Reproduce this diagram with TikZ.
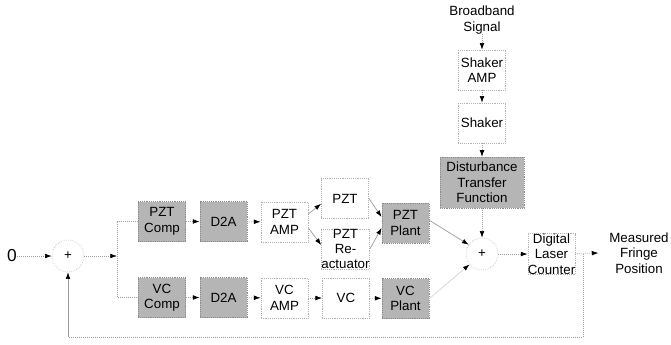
\documentclass[tikz,border=0pt]{standalone}
\usepackage{fontspec}
\setmainfont{Liberation Sans}
\usetikzlibrary{arrows.meta}
\begin{document}
\begin{tikzpicture}[x=0.75pt,y=-0.75pt,
  every node/.style={font=\fontsize{10}{11.6}\selectfont, align=center, inner sep=0pt},
  gbox/.style={fill=gray!58, draw=gray!90, densely dotted, minimum width=35.5pt, minimum height=30pt},
  wbox/.style={draw=gray!60, densely dotted, minimum width=35.5pt, minimum height=30pt},
  sumnode/.style={circle, draw=gray!70, densely dotted, minimum size=24pt},
  conn/.style={draw=gray!75, densely dotted, line width=0.5pt, -{Latex[length=5pt,width=3.5pt,black]}},
  plain/.style={draw=gray!75, densely dotted, line width=0.5pt},
  diag/.style={draw=gray!80, line width=0.5pt, -{Latex[length=5pt,width=3.5pt,black]}}
]
\useasboundingbox (0,0) rectangle (671,344);

% input and first summing junction
\node (zero) at (12,256) {\fontsize{13}{14}\selectfont 0};
\node[sumnode] (s1) at (68,256) {+};
\coordinate (br) at (117,256);

% PZT branch
\node[gbox] (pc) at (162,221.5) {PZT\\Comp};
\node[gbox] (d2a1) at (223.5,221.5) {D2A};
\node[wbox] (pamp) at (284.5,222) {PZT\\AMP};
\node[wbox] (pzt) at (345,198.5) {PZT};
\node[wbox] (rea) at (345.5,249) {PZT\\Re-\\actuator};
\node[gbox] (pplant) at (405.5,223) {PZT\\Plant};

% VC branch
\node[gbox] (vcc) at (162,297.5) {VC\\Comp};
\node[gbox] (d2a2) at (223.5,297.5) {D2A};
\node[wbox] (vamp) at (284.5,298) {VC\\AMP};
\node[wbox] (vc) at (346,298) {VC};
\node[gbox] (vplant) at (405.5,298.5) {VC\\Plant};

% disturbance path
\node (bb) at (482,20) {Broadband\\Signal};
\node[wbox] (samp) at (482,70) {Shaker\\AMP};
\node[wbox] (shaker) at (482,123) {Shaker};
\node[gbox, minimum width=63pt, minimum height=38pt] (dtf) at (482,182.5) {Disturbance\\Transfer\\Function};

% output
\node[sumnode] (s2) at (482,254) {+};
\node[wbox] (dlc) at (551.5,254) {Digital\\Laser\\Counter};
\node (mfp) at (639,253) {Measured\\Fringe\\Position};
\coordinate (tap) at (583,254);
\coordinate (fb1) at (583,337);
\coordinate (fb2) at (68,337);

% connectors
\draw[conn] (zero) -- (s1);
\draw[conn] (s1) -- (br);
\draw[plain] (pc.west) -| (br);
\draw[plain] (br) |- (vcc.west);
\draw[conn] (pc) -- (d2a1);
\draw[conn] (d2a1) -- (pamp);
\draw[diag] ([yshift=6pt]pamp.east) -- ([yshift=-4pt]pzt.west);
\draw[diag] ([yshift=-4.5pt]pamp.east) -- ([yshift=3pt]rea.west);
\draw[diag] (pzt.east) -- ([yshift=4.5pt]pplant.west);
\draw[diag] (rea.east) -- ([yshift=-3.75pt]pplant.west);
\draw[conn] (vcc) -- (d2a2);
\draw[conn] (d2a2) -- (vamp);
\draw[conn] (vamp) -- (vc);
\draw[conn] (vc) -- (vplant);

\draw[conn] (bb) -- (samp);
\draw[conn] (samp) -- (shaker);
\draw[conn] (shaker) -- (dtf);
\draw[conn] (dtf) -- (s2);
\draw[diag] ([yshift=2pt]pplant.east) -- (s2.145);
\draw[diag, draw=gray!35] (vplant.east) -- (s2.220);
\draw[conn] (s2) -- (dlc);
\draw[conn] (dlc) -- ([xshift=-8pt]mfp.west);
\draw[plain] (tap) -- (fb1) -- (fb2);
\draw[diag] (fb2) -- (s1);
\end{tikzpicture}
\end{document}
